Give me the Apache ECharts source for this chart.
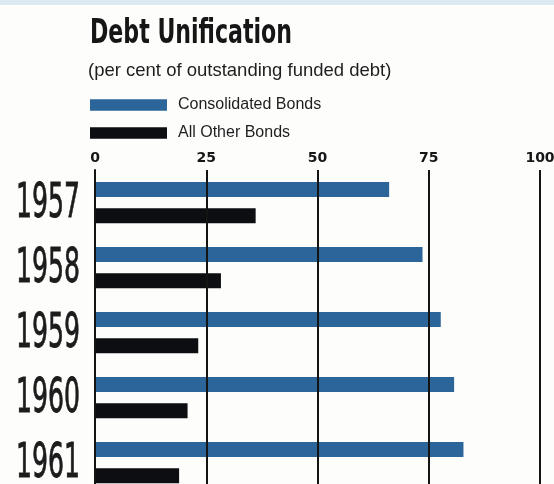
<!DOCTYPE html>
<html>
<head>
<meta charset="utf-8">
<script src="https://cdn.jsdelivr.net/npm/echarts@6/dist/echarts.min.js"></script>
<style>
  html, body { margin: 0; padding: 0; background: #fdfdfc; }
  #chart { width: 554px; height: 484px; }
</style>
</head>
<body>
<div id="chart"></div>
<script>
const years = ['1957', '1958', '1959', '1960', '1961'];
const consolidatedBonds = [66.1, 73.6, 77.7, 80.7, 82.8];
const allOtherBonds = [36.1, 28.3, 23.2, 20.8, 18.9];
const tickValues = [0, 25, 50, 75, 100];
const titleText = 'Debt Unification';
const subtitleText = '(per cent of outstanding funded debt)';

const condensed = "'DejaVu Sans Condensed', 'DejaVu Sans', sans-serif";
const titleFont = "bold 33px " + condensed;
const yearFont = "normal 48px " + condensed;

// horizontal squeeze so the condensed display type matches the printed width
const mctx = document.createElement('canvas').getContext('2d');
function squeeze(font, text, targetWidth) {
  mctx.font = font;
  const w = mctx.measureText(text).width;
  return w > 0 ? targetWidth / w : 1;
}
const titleScale = squeeze(titleFont, titleText, 202);
const yearScale = squeeze(yearFont, '1957', 64);

const chart = echarts.init(document.getElementById('chart'), null, { renderer: 'canvas' });

chart.setOption({
  backgroundColor: '#fdfdfc',
  animation: false,
  graphic: [
    { type: 'rect', left: 0, top: 0, shape: { width: 554, height: 5 }, style: { fill: '#dde9f1' }, silent: true },
    {
      type: 'text', x: 90, y: 34, scaleX: titleScale, silent: true,
      style: { text: titleText, font: titleFont, fill: '#161616', align: 'left', verticalAlign: 'middle' }
    }
  ],
  title: {
    text: subtitleText,
    left: 83, top: 56,
    textStyle: { fontFamily: "'Liberation Sans', Arial, sans-serif", fontWeight: 'normal', fontSize: 18.5, color: '#1e1e1e' }
  },
  legend: {
    orient: 'vertical',
    left: 85, top: 92,
    itemWidth: 77, itemHeight: 11.5,
    itemGap: 12,
    icon: 'rect',
    textStyle: { fontFamily: "'Liberation Sans', Arial, sans-serif", fontSize: 16, color: '#1e1e1e', padding: [4, 0, 0, 6] },
    data: ['Consolidated Bonds', 'All Other Bonds']
  },
  grid: { left: 95, right: 14, top: 170, bottom: -11, containLabel: false, outerBoundsMode: 'none' },
  xAxis: {
    type: 'value',
    position: 'top',
    min: 0, max: 100, interval: 25,
    z: 3,
    axisLine: { show: false },
    axisTick: { show: false },
    axisLabel: {
      margin: 5,
      fontFamily: "'DejaVu Sans', sans-serif", fontWeight: 'bold', fontSize: 14, color: '#161616',
      formatter: function (v) { return tickValues.indexOf(v) >= 0 ? String(v) : ''; }
    },
    splitLine: { show: true, lineStyle: { color: '#141414', width: 2 } }
  },
  yAxis: {
    type: 'category',
    inverse: true,
    data: years,
    z: 3,
    axisLine: { show: true, onZero: false, lineStyle: { color: '#141414', width: 2 } },
    axisTick: { show: false },
    axisLabel: { show: false }
  },
  series: [
    {
      name: 'Consolidated Bonds',
      type: 'bar',
      data: consolidatedBonds,
      barWidth: 15,
      barGap: '75%',
      itemStyle: { color: '#2b6599' }
    },
    {
      name: 'All Other Bonds',
      type: 'bar',
      data: allOtherBonds,
      barWidth: 15,
      barGap: '75%',
      itemStyle: { color: '#0c0e11' }
    },
    {
      name: 'Year labels',
      type: 'custom',
      silent: true,
      clip: false,
      data: years.map(function (y) { return [0, y]; }),
      encode: { x: 0, y: 1 },
      renderItem: function (params, api) {
        const p = api.coord([0, api.value(1)]);
        return {
          type: 'text',
          x: p[0] - 15,
          y: p[1] + 2,
          scaleX: yearScale,
          style: {
            text: years[params.dataIndex], font: yearFont, fill: '#1c1c1c',
            stroke: '#1c1c1c', lineWidth: 0.8,
            align: 'right', verticalAlign: 'middle'
          }
        };
      }
    }
  ]
});
</script>
</body>
</html>
